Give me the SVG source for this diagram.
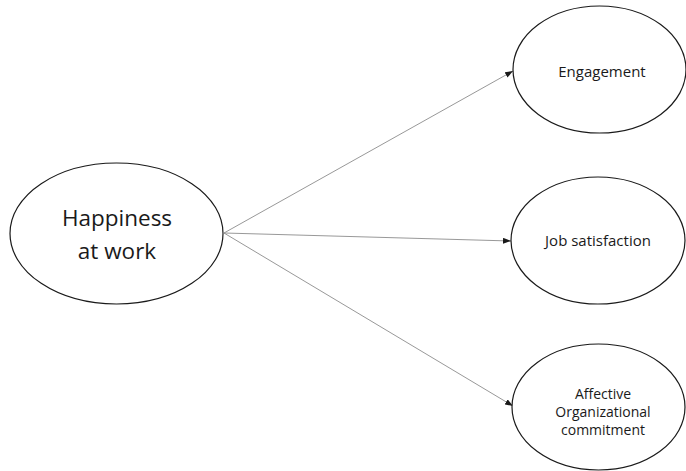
<svg xmlns="http://www.w3.org/2000/svg" width="686" height="471" viewBox="0 0 686 471">
  <style>
    .node ellipse { fill: #ffffff; stroke: #1a1a1a; stroke-width: 1.2; }
    .label { font-family: "Open Sans", "Liberation Sans", sans-serif; fill: #1a1a1a; text-anchor: middle; }
    .conn line { stroke: #8c8c8c; stroke-width: 0.9; fill: none; marker-end: url(#arrow); }
  </style>
  <defs>
    <marker id="arrow" markerWidth="8" markerHeight="6" refX="8" refY="3" orient="auto" markerUnits="userSpaceOnUse">
      <path d="M0,0 L8,3 L0,6 Z" fill="#1a1a1a"/>
    </marker>
  </defs>
  <rect width="686" height="471" fill="#ffffff"/>
  <g id="connectors" class="conn">
    <line x1="224" y1="233" x2="513" y2="71"/>
    <line x1="224" y1="233" x2="511" y2="241"/>
    <line x1="224" y1="233" x2="513" y2="406"/>
  </g>
  <g id="happiness" class="node">
    <ellipse cx="116.5" cy="233.5" rx="106.5" ry="70.5"/>
    <text class="label" x="117" y="226" font-size="22.5">Happiness</text>
    <text class="label" x="117" y="259" font-size="22.5">at work</text>
  </g>
  <g id="engagement" class="node">
    <ellipse cx="599.5" cy="69.5" rx="86.5" ry="63.5"/>
    <text class="label" x="602" y="77" font-size="15">Engagement</text>
  </g>
  <g id="job-satisfaction" class="node">
    <ellipse cx="598" cy="240.5" rx="87" ry="63.5"/>
    <text class="label" x="598" y="246" font-size="15">Job satisfaction</text>
  </g>
  <g id="affective-commitment" class="node">
    <ellipse cx="598.5" cy="407" rx="86.5" ry="63"/>
    <text class="label" x="603" y="399" font-size="14">Affective</text>
    <text class="label" x="603" y="417" font-size="14">Organizational</text>
    <text class="label" x="603" y="435" font-size="14">commitment</text>
  </g>
</svg>
